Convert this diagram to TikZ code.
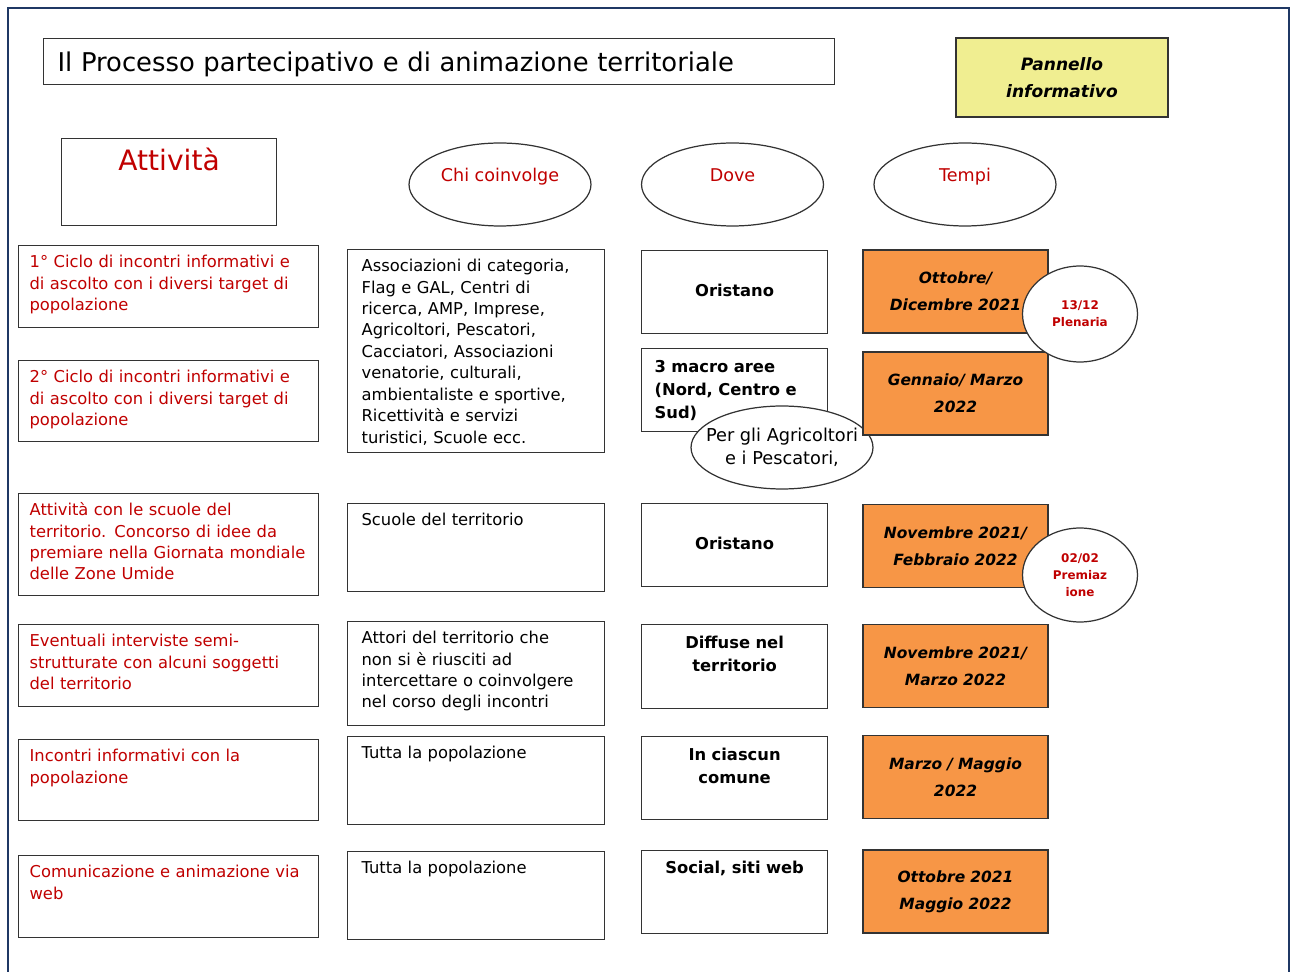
\documentclass[tikz,border=0pt]{standalone}
\usepackage{fontspec}
\setmainfont{DejaVu Sans}
\usetikzlibrary{shapes.geometric}
\definecolor{rosso}{RGB}{192,0,0}
\definecolor{arancio}{RGB}{247,150,70}
\definecolor{giallo}{RGB}{240,238,145}
\definecolor{cornice}{RGB}{31,56,100}
\tikzset{
        riquadro/.style={draw=black!80, line width=0.7pt, anchor=north west, inner ysep=0pt},
        attbox/.style={riquadro, text=rosso, align=left, text width=5.56cm, inner xsep=0.22cm, text height=0.44cm, text depth=#1, font=\fontsize{9.3}{12.2}\selectfont},
        chibox/.style={riquadro, align=left, text width=4.58cm, inner xsep=0.28cm, text height=0.44cm, text depth=#1, font=\fontsize{9.3}{12.2}\selectfont},
        dovebox/.style={riquadro, align=center, text width=3.2cm, inner xsep=0.26cm, font=\fontsize{9.3}{13}\selectfont\bfseries},
        tempibox/.style={draw=black!80, line width=0.7pt, fill=arancio, minimum width=3.7cm, minimum height=1.66cm, text width=3.4cm, align=center, font=\fontsize{8.8}{15.3}\selectfont\bfseries\itshape},
        testata/.style={draw=black!80, line width=0.7pt, ellipse, minimum width=3.64cm, minimum height=1.66cm, inner sep=0pt, text height=0.35cm, text depth=0.45cm, text=rosso, font=\fontsize{10}{12}\selectfont},
        bolla/.style={draw=black!80, line width=0.7pt, ellipse, fill=white, minimum width=2.3cm, minimum height=1.9cm, inner sep=0pt, align=center, text=rosso, font=\fontsize{6.8}{9.6}\selectfont\bfseries}
}
\begin{document}
\begin{tikzpicture}[x=0.02cm, y=-0.02cm]
        \useasboundingbox (0,0) rectangle (1294,972);
        \draw[cornice, line width=1.2pt] (8,972) -- (8,8) -- (1289,8) -- (1289,972);
        \node[riquadro, align=left, text width=15.26cm, inner xsep=0.28cm, text height=0.66cm, text depth=0.26cm, font=\fontsize{14.7}{17}\selectfont] (titolo) at (43,38) {Il Processo partecipativo e di animazione territoriale};
        \node[draw=black!80, line width=0.7pt, fill=giallo, minimum width=4.24cm, minimum height=1.58cm, text width=4cm, align=center, font=\fontsize{9.7}{15.3}\selectfont\bfseries\itshape] (pannello) at (1062,77.5) {Pannello\\informativo};
        \node[riquadro, align=center, text=rosso, text width=4.3cm, inner xsep=0pt, text height=0.64cm, text depth=1.1cm, font=\fontsize{16}{19}\selectfont] (attivita) at (61,138) {Attività};
        \node[testata] (chi) at (500,184.5) {Chi coinvolge};
        \node[testata] (dove) at (732.5,184.5) {Dove};
        \node[testata] (tempi) at (965,184.5) {Tempi};
        \node[attbox=1.2cm] (att1) at (18,245) {1° Ciclo di incontri informativi e\\di ascolto con i diversi target di\\popolazione};
        \node[attbox=1.18cm] (att2) at (18,360) {2° Ciclo di incontri informativi e\\di ascolto con i diversi target di\\popolazione};
        \node[attbox=1.6cm] (att3) at (18,493) {Attività con le scuole del\\territorio. Concorso di idee da\\premiare nella Giornata mondiale\\delle Zone Umide};
        \node[attbox=1.2cm] (att4) at (18,624) {Eventuali interviste semi-\\strutturate con alcuni soggetti\\del territorio};
        \node[attbox=1.18cm] (att5) at (18,739) {Incontri informativi con la\\popolazione};
        \node[attbox=1.2cm] (att6) at (18,855) {Comunicazione e animazione via\\web};
        \node[chibox=3.62cm] (chi1) at (347,249) {Associazioni di categoria,\\Flag e GAL, Centri di\\ricerca, AMP, Imprese,\\Agricoltori, Pescatori,\\Cacciatori, Associazioni\\venatorie, culturali,\\ambientaliste e sportive,\\Ricettività e servizi\\turistici, Scuole ecc.};
        \node[chibox=1.32cm] (chi2) at (347,503) {Scuole del territorio};
        \node[chibox=1.64cm] (chi3) at (347,621) {Attori del territorio che\\non si è riusciti ad\\intercettare o coinvolgere\\nel corso degli incontri};
        \node[chibox=1.32cm] (chi4) at (347,736) {Tutta la popolazione};
        \node[chibox=1.32cm] (chi5) at (347,851) {Tutta la popolazione};
        \node[dovebox, text height=0.92cm, text depth=0.74cm] (dove1) at (641,250) {Oristano};
        \node[dovebox, align=left, text height=0.48cm, text depth=1.18cm] (dove2) at (641,348) {3 macro aree\\(Nord, Centro e\\Sud)};
        \node[draw=black!80, line width=0.7pt, ellipse, fill=white, minimum width=3.64cm, minimum height=1.66cm, inner xsep=-10pt, inner ysep=0pt, align=center, font=\fontsize{10.1}{13}\selectfont] (per) at (782,447.5) {Per gli Agricoltori\\e i Pescatori,};
        \node[dovebox, text height=0.92cm, text depth=0.74cm] (dove3) at (641,503) {Oristano};
        \node[dovebox, text height=0.48cm, text depth=1.2cm] (dove4) at (641,624) {Diffuse nel\\territorio};
        \node[dovebox, text height=0.48cm, text depth=1.18cm] (dove5) at (641,736) {In ciascun\\comune};
        \node[dovebox, text height=0.46cm, text depth=1.2cm] (dove6) at (641,850) {Social, siti web};
        \node[tempibox] (tempi1) at (955.5,291.5) {Ottobre/\\Dicembre 2021};
        \node[tempibox] (tempi2) at (955.5,393.5) {Gennaio/ Marzo\\2022};
        \node[tempibox] (tempi3) at (955.5,546) {Novembre 2021/\\Febbraio 2022};
        \node[tempibox] (tempi4) at (955.5,666) {Novembre 2021/\\Marzo 2022};
        \node[tempibox] (tempi5) at (955.5,777) {Marzo / Maggio\\2022};
        \node[tempibox] (tempi6) at (955.5,891.5) {Ottobre 2021\\Maggio 2022};
        \node[bolla, minimum height=1.92cm] (plenaria) at (1080,314) {13/12\\Plenaria};
        \node[bolla, minimum height=1.88cm] (premiazione) at (1080,575) {02/02\\Premiaz\\ione};
\end{tikzpicture}
\end{document}
